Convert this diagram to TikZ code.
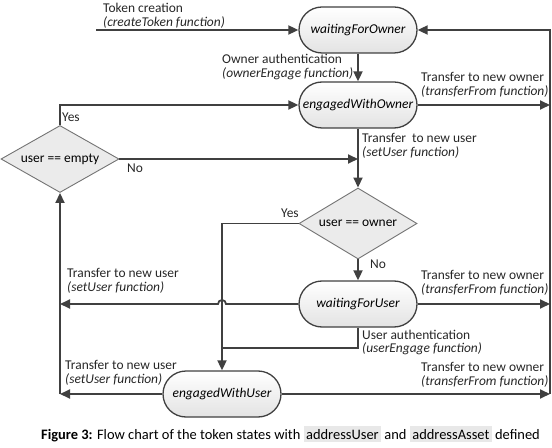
\documentclass[tikz,border=0pt]{standalone}
\usepackage{fontspec}
\setmainfont{Carlito}
\usetikzlibrary{shapes.misc,shapes.geometric,arrows.meta,calc}
\definecolor{ln}{HTML}{404040}
\definecolor{codebg}{HTML}{E8E8E8}
\newcommand{\codebox}[1]{{\setlength{\fboxsep}{2.5pt}\colorbox{codebg}{#1}}}
\begin{document}
\begin{tikzpicture}[x=1bp,y=-1bp,
  stadium/.style={rounded rectangle, draw=ln, line width=1.3bp, top color=white, bottom color=black!11,
    minimum width=118bp, minimum height=46bp, inner sep=0pt, font=\fontsize{13.5}{15}\selectfont\itshape},
  dia/.style={diamond, draw=black!55, line width=0.9bp, fill=black!8, inner sep=0pt,
    font=\fontsize{13.5}{15}\selectfont},
  arr/.style={draw=ln, line width=1.8bp, -{Triangle[length=10bp,width=9bp]}},
  ln/.style={draw=ln, line width=1.8bp},
  lbl/.style={anchor=west, inner sep=0pt, align=left, font=\fontsize{13.5}{14}\selectfont, text=black!85}]
\useasboundingbox (0,0) rectangle (552,448);
% nodes
\node[stadium] (wfo) at (358,30) {waitingForOwner};
\node[stadium] (ewo) at (358,105) {engagedWithOwner};
\node[dia, aspect=1.76, minimum width=118bp, minimum height=67bp] (ue) at (60,159) {user == empty};
\node[dia, aspect=1.66, minimum width=118bp, minimum height=71bp] (uo) at (358,223.5) {user == owner};
\node[stadium] (wfu) at (358,304) {waitingForUser};
\node[stadium] (ewu) at (222,394) {engagedWithUser};
% coordinates
\coordinate (start) at (96,30);
\coordinate (tr) at (550,30);
\coordinate (br) at (550,394);
\coordinate (bl) at (60,394);
\coordinate (ua) at (222,348);
\coordinate (yo) at (222,223.5);
% connectors
\draw[arr] (start) -- (wfo.west);
\draw[arr] (wfo.south) -- (ewo.north);
\draw[arr] (br) -- (tr) -- (wfo.east);
\draw[arr] (ewo.east) -- (ewo.east -| tr);
\draw[arr] (wfu.east) -- (wfu.east -| tr);
\draw[arr] (ewu.east) -- (br);
\draw[arr] (ue.north) -- (ue.north |- ewo.west) -- (ewo.west);
\draw[arr] (ue.east) -- (ue.east -| ewo.south);
\draw[arr] (ewo.south) -- (uo.north);
\draw[arr] (uo.south) -- (wfu.north);
\draw[ln] (uo.west) -- (yo);
\draw[arr] (yo) -- (ewu.north);
\draw[ln] (wfu.south) |- (ua);
\draw[arr] (wfu.west) -- ($(yo |- wfu.west)+(4,0)$) arc (0:-180:4) -- (bl |- wfu.west);
\draw[arr] (ewu.west) -- (bl);
\draw[arr] (bl) -- (ue.south);
% labels
\node[lbl] (l1) at (103,16) {Token creation\\\textit{(createToken function)}};
\node[lbl] (l2) at (222,67) {Owner authentication\\\textit{(ownerEngage function)}};
\node[lbl] (l3) at (421,84.5) {Transfer to new owner\\\textit{(transferFrom function)}};
\node[lbl] (l4) at (362,146) {Transfer\ \ to new user\\\textit{(setUser function)}};
\node[lbl] (l5) at (62,117) {Yes};
\node[lbl] (l6) at (127,168) {No};
\node[lbl] (l7) at (281,213) {Yes};
\node[lbl] (l8) at (370,264) {No};
\node[lbl] (l9) at (421,282.5) {Transfer to new owner\\\textit{(transferFrom function)}};
\node[lbl] (l10) at (67,281) {Transfer to new user\\\textit{(setUser function)}};
\node[lbl] (l11) at (362,342.5) {User authentication\\\textit{(userEngage function)}};
\node[lbl] (l12) at (421,374.5) {Transfer to new owner\\\textit{(transferFrom function)}};
\node[lbl] (l13) at (65,372.5) {Transfer to new user\\\textit{(setUser function)}};
\node[anchor=base east, inner sep=0pt, font=\fontsize{14.5}{15}\selectfont] (cap) at (540,439)
  {\textbf{Figure 3:} Flow chart of the token states with \codebox{addressUser} and \codebox{addressAsset} defined};
\end{tikzpicture}
\end{document}
